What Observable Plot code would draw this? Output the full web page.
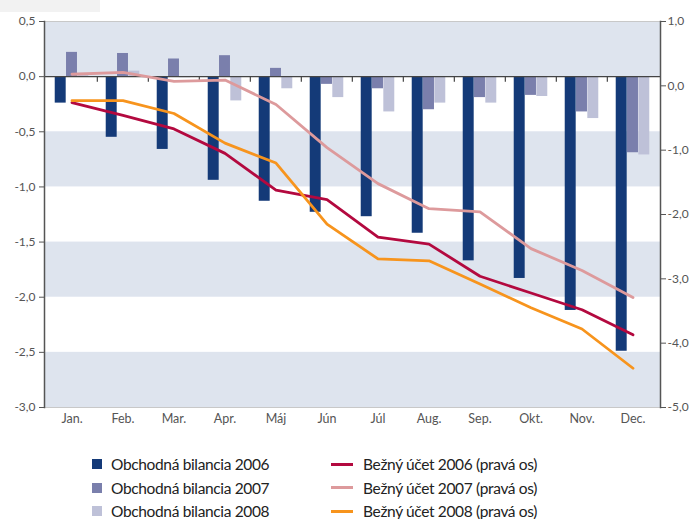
<!DOCTYPE html>
<html><head><meta charset="utf-8">
<script src="https://cdn.jsdelivr.net/npm/d3@7"></script>
<script src="https://cdn.jsdelivr.net/npm/@observablehq/plot@0.6"></script>
<style>
body{margin:0;background:#fff;font-family:Lato,"Open Sans",sans-serif;}
#wrap{position:relative;width:690px;height:519px;overflow:hidden;}
#chart{position:absolute;left:0;top:0;}
#legend{position:absolute;left:0;top:453px;width:690px;font-size:15.5px;letter-spacing:-0.35px;color:#222;}
.item{position:absolute;display:flex;align-items:center;height:22px;white-space:nowrap;}
.sw{display:inline-block;width:10px;height:10px;margin-right:9px;}
.ln{display:inline-block;width:22px;height:3px;margin-right:10px;}
#tl{position:absolute;left:0;top:0;width:100px;height:12px;background:#f2f2f2;}
</style></head>
<body><div id="wrap"><div id="tl"></div><div id="chart"></div><div id="legend"></div></div>
<script>
const months = ["Jan.","Feb.","Mar.","Apr.","Máj","Jún","Júl","Aug.","Sep.","Okt.","Nov.","Dec."];
const ob2006 = [-0.24,-0.55,-0.66,-0.94,-1.13,-1.23,-1.27,-1.42,-1.67,-1.83,-2.12,-2.49];
const ob2007 = [0.22,0.21,0.16,0.19,0.075,-0.07,-0.11,-0.30,-0.19,-0.17,-0.32,-0.69];
const ob2008 = [0.03,0.05,-0.01,-0.22,-0.11,-0.19,-0.32,-0.24,-0.24,-0.18,-0.38,-0.71];
const bu2006 = [-0.26,-0.46,-0.67,-1.05,-1.62,-1.77,-2.35,-2.46,-2.96,-3.22,-3.48,-3.87];
const bu2007 = [0.18,0.21,0.07,0.09,-0.29,-0.96,-1.52,-1.91,-1.96,-2.53,-2.87,-3.29];
const bu2008 = [-0.23,-0.23,-0.43,-0.89,-1.20,-2.15,-2.69,-2.72,-3.08,-3.45,-3.78,-4.39];
const leftTicks = [0.5,0,-0.5,-1,-1.5,-2,-2.5,-3];
const rightTicks = [1,0,-1,-2,-3,-4,-5];
const bandTops = [0.5,-0.5,-1.5,-2.5];
const barNames = ["Obchodná bilancia 2006","Obchodná bilancia 2007","Obchodná bilancia 2008"];
const lineNames = ["Bežný účet 2006 (pravá os)","Bežný účet 2007 (pravá os)","Bežný účet 2008 (pravá os)"];

const barColors = ["#143a78","#7a7fac","#bec1d8"];
const lineColors = ["#b3093f","#dd9a9c","#f7941d"];
const leftDomain = [-3, 0.5], rightDomain = [-5, 1];
const toLeft = v => leftDomain[0] + (v - rightDomain[0]) * (leftDomain[1]-leftDomain[0])/(rightDomain[1]-rightDomain[0]);
const fromLeft = v => rightDomain[0] + (v - leftDomain[0]) * (rightDomain[1]-rightDomain[0])/(leftDomain[1]-leftDomain[0]);
const fmt = v => { const s = (Math.round(v*10)/10).toFixed(1).replace(".", ","); return s === "-0,0" ? "0,0" : s; };

const W = 690, H = 440, mL = 44, mR = 30;
const bw = (W - mL - mR) / months.length;
const barW = bw * 0.22;
const inset = (bw - barW) / 2;

const bars = [ob2006, ob2007, ob2008];
const lines = [bu2006, bu2007, bu2008];
const barRows = bars.map(s => months.map((m,i) => ({month:m, value:s[i]})));
const lineRows = lines.map(s => months.map((m,i) => ({month:m, value:s[i]})));

const chart = Plot.plot({
  width: W, height: H,
  marginLeft: mL, marginRight: mR, marginTop: 21, marginBottom: 33,
  style: {fontFamily: "Lato, 'Open Sans', sans-serif", fontSize: "12px", color: "#555", background: "transparent"},
  x: {type: "band", domain: months, padding: 0, label: null},
  y: {domain: leftDomain, label: null},
  marks: [
    Plot.rect(bandTops, {y1: d => d, y2: d => d - 0.5, fill: "#dee4ee"}),
    Plot.frame({stroke: "#c8c8c8"}),
    ...barRows.map((rows, k) => Plot.barY(rows, {x: "month", y: "value", fill: barColors[k], dx: (k-1)*barW, insetLeft: inset, insetRight: inset})),
    Plot.ruleY([0], {stroke: "#444", strokeWidth: 1.2}),
    Plot.ruleX(months.slice(1), {x: d => d, dx: -bw/2, y1: 0, y2: -0.05, stroke: "#444", strokeWidth: 1.2}),
    ...lineRows.map((rows, k) => Plot.line(rows, {x: "month", y: d => toLeft(d.value), stroke: lineColors[k], strokeWidth: 2.8})),
    Plot.frame({anchor: "left", stroke: "#555", strokeWidth: 1.5}),
    Plot.frame({anchor: "right", stroke: "#555", strokeWidth: 1.5}),
    Plot.axisY({anchor: "left", label: null, ticks: leftTicks, tickFormat: fmt, tickSize: 5, tickPadding: 4, stroke: "#555", fill: "#555"}),
    Plot.axisY({anchor: "right", label: null, ticks: rightTicks.map(toLeft), tickFormat: d => fmt(fromLeft(d)), tickSize: 5, tickPadding: 2, stroke: "#555", fill: "#555"}),
    Plot.axisX({anchor: "bottom", label: null, tickSize: 0, tickPadding: 7, fill: "#555", fontSize: 12.5})
  ]
});
document.getElementById("chart").appendChild(chart);

const legend = document.getElementById("legend");
const rowsY = [0, 23.5, 47];
barNames.forEach((n,i) => {
  const d = document.createElement("div"); d.className = "item";
  d.style.left = "92px"; d.style.top = rowsY[i] + "px";
  d.innerHTML = `<span class="sw" style="background:${barColors[i]}"></span>${n}`;
  legend.appendChild(d);
});
lineNames.forEach((n,i) => {
  const d = document.createElement("div"); d.className = "item";
  d.style.left = "331px"; d.style.top = rowsY[i] + "px";
  d.innerHTML = `<span class="ln" style="background:${lineColors[i]}"></span>${n}`;
  legend.appendChild(d);
});
</script></body></html>
